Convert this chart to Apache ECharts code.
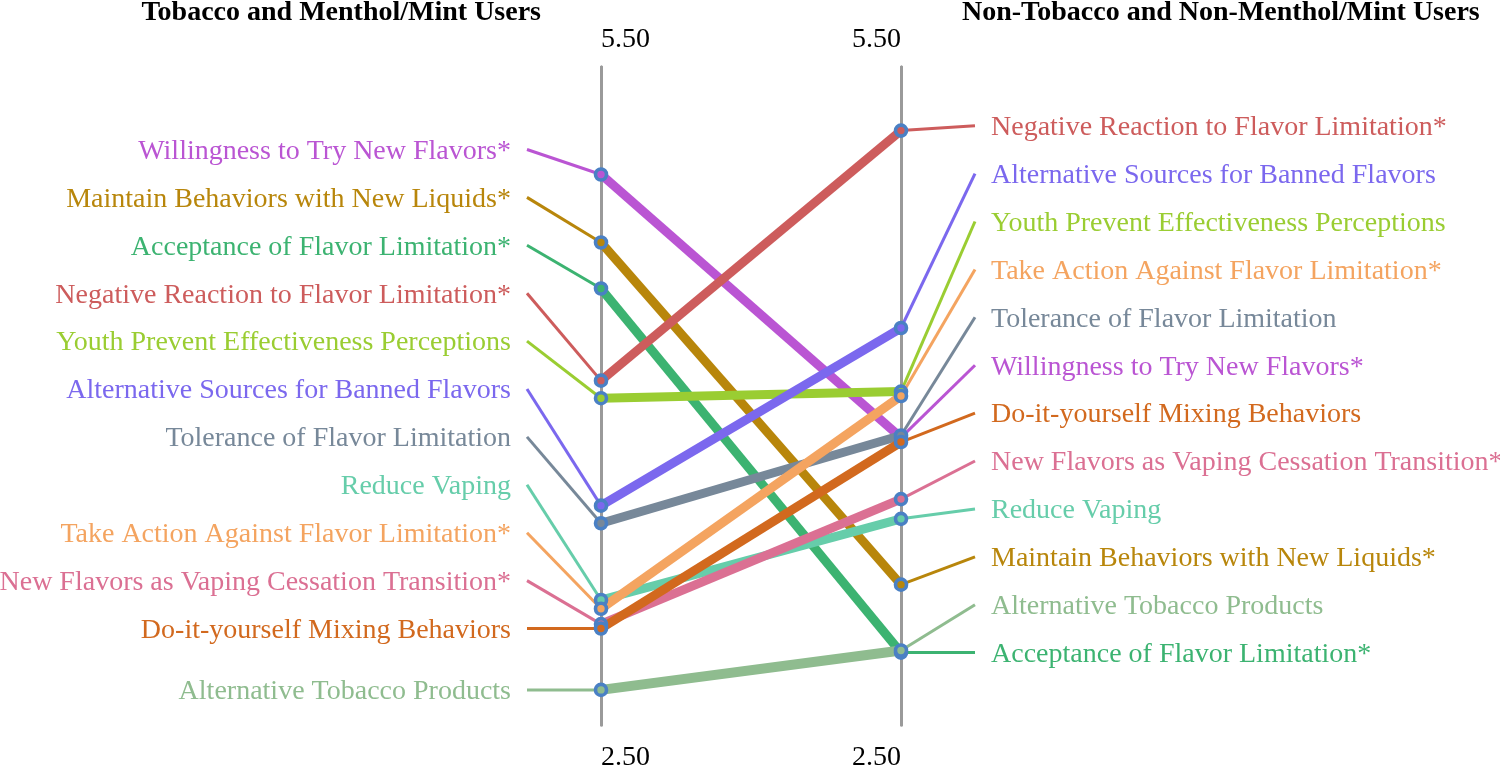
<!DOCTYPE html>
<html>
<head>
<meta charset="utf-8">
<script src="https://cdn.jsdelivr.net/npm/echarts@6/dist/echarts.min.js"></script>
<style>
html,body{margin:0;padding:0;background:#fff;overflow:hidden;}
#chart{width:1500px;height:768px;}
</style>
</head>
<body>
<div id="chart"></div>
<script>
// ---- data ----
const groupNames = ['Tobacco and Menthol/Mint Users', 'Non-Tobacco and Non-Menthol/Mint Users'];
const categories = [
  'Willingness to Try New Flavors*',
  'Maintain Behaviors with New Liquids*',
  'Acceptance of Flavor Limitation*',
  'Negative Reaction to Flavor Limitation*',
  'Youth Prevent Effectiveness Perceptions',
  'Alternative Sources for Banned Flavors',
  'Tolerance of Flavor Limitation',
  'Reduce Vaping',
  'Take Action Against Flavor Limitation*',
  'New Flavors as Vaping Cessation Transition*',
  'Do-it-yourself Mixing Behaviors',
  'Alternative Tobacco Products'
];
const leftValues  = [5.01, 4.70, 4.49, 4.07, 3.99, 3.50, 3.42, 3.07, 3.03, 2.96, 2.94, 2.66];
const rightValues = [3.81, 3.14, 2.83, 5.21, 4.02, 4.31, 3.82, 3.44, 4.00, 3.53, 3.79, 2.84];
const colors = ['#BA55D3', '#B8860B', '#3CB371', '#CD5C5C', '#9ACD32', '#7B68EE',
                '#778899', '#66CDAA', '#F4A460', '#DB7093', '#D2691E', '#8FBC8F'];
const axisMin = 2.5;
const axisMax = 5.5;
const tickLabels = ['2.50', '5.50'];

// ---- styling ----
const FONT = '"Liberation Serif", "Times New Roman", serif';
const FS = 28;
const LABEL_GAP = 47.9;
const MARKER_BORDER = '#4A80C4';
const AXIS_COLOR = '#9A9A9A';

const chart = echarts.init(document.getElementById('chart'), null, {renderer: 'canvas'});

function makeAxis(position, name, loc, gap, align) {
  return {
    type: 'value', min: axisMin, max: axisMax, position: position,
    name: name, nameLocation: loc, nameGap: gap,
    nameTextStyle: {fontFamily: FONT, fontSize: FS, color: '#000', align: align, verticalAlign: 'middle'},
    axisLine: {show: true, lineStyle: {color: AXIS_COLOR, width: 3}},
    axisTick: {show: false}, axisLabel: {show: false}, splitLine: {show: false}
  };
}

// label layout: stack from bottom upwards with a minimum gap
function layoutLabels(ys) {
  const order = ys.map((y, i) => i).sort((a, b) => ys[b] - ys[a]);
  const out = new Array(ys.length);
  let prev = Infinity;
  order.forEach(i => {
    const y = Math.min(ys[i], prev - LABEL_GAP);
    out[i] = y;
    prev = y;
  });
  return out;
}

function labelSeries(side, values) {
  return {
    type: 'custom',
    z: 2,
    clip: false,
    silent: true,
    data: values.map(v => [side, v]),
    renderItem: function (params, api) {
      const i = params.dataIndex;
      const ys = values.map(v => api.coord([side, v])[1]);
      const ly = layoutLabels(ys)[i];
      const p = api.coord([side, values[i]]);
      const dir = side === 0 ? -1 : 1;
      const lx = p[0] + dir * 74;
      const tx = p[0] + dir * 90;
      return {
        type: 'group',
        children: [
          {type: 'line', shape: {x1: p[0], y1: p[1], x2: lx, y2: ly},
           style: {stroke: colors[i], lineWidth: 3}},
          {type: 'text',
           style: {text: categories[i], x: tx, y: ly + 2, fill: colors[i],
                   font: FS + 'px ' + FONT, align: side === 0 ? 'right' : 'left',
                   verticalAlign: 'middle'}}
        ]
      };
    }
  };
}

const series = [];
categories.forEach((c, i) => {
  series.push({
    type: 'line', name: c, z: 2,
    data: [[0, leftValues[i]], [1, rightValues[i]]],
    symbol: 'none',
    lineStyle: {color: colors[i], width: i === 11 ? 10 : 9},
    silent: true, animation: false
  });
});
series.push(labelSeries(0, leftValues));
series.push(labelSeries(1, rightValues));
const points = [];
categories.forEach((c, i) => points.push({value: [0, leftValues[i]], itemStyle: {color: colors[i]}}));
categories.forEach((c, i) => points.push({value: [1, rightValues[i]], itemStyle: {color: colors[i]}}));
series.push({
  type: 'scatter', z: 4, symbol: 'circle', symbolSize: 11,
  itemStyle: {borderColor: MARKER_BORDER, borderWidth: 3.6, opacity: 1},
  data: points, silent: true
});

chart.setOption({
  animation: false,
  backgroundColor: '#fff',
  title: [
    {text: groupNames[0], left: 541, top: -1, textAlign: 'right', padding: 0,
     textStyle: {fontFamily: FONT, fontSize: FS, fontWeight: 'bold', color: '#000'}},
    {text: groupNames[1], left: 962, top: -1, textAlign: 'left', padding: 0,
     textStyle: {fontFamily: FONT, fontSize: FS, fontWeight: 'bold', color: '#000'}}
  ],
  grid: {left: 601, right: 599, top: 67, bottom: 43, containLabel: false, outerBoundsMode: 'none'},
  xAxis: {type: 'category', data: groupNames, boundaryGap: false, show: false},
  yAxis: [
    makeAxis('left', tickLabels[1], 'end', 27, 'left'),
    makeAxis('right', tickLabels[1], 'end', 27, 'right'),
    makeAxis('left', tickLabels[0], 'start', 33, 'left'),
    makeAxis('right', tickLabels[0], 'start', 33, 'right')
  ],
  series: series
});
</script>
</body>
</html>
